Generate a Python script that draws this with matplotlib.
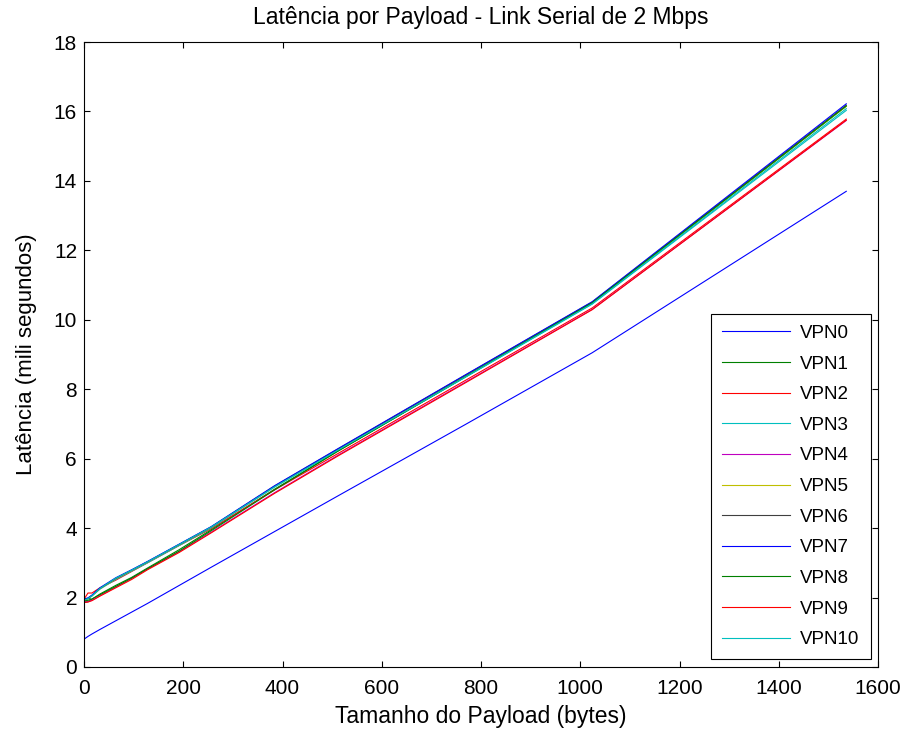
import matplotlib
matplotlib.use("Agg")
import matplotlib.pyplot as plt

plt.rcParams['font.family'] = ['Liberation Sans', 'DejaVu Sans']

# payload sizes (bytes)
payload = [0, 8, 16, 32, 64, 96, 128, 192, 256, 384, 512, 768, 1024, 1536]

vpn0  = [0.80, 0.88, 0.95, 1.08, 1.33, 1.58, 1.83, 2.35, 2.87, 3.90, 4.93, 6.98, 9.05, 13.70]
vpn1  = [1.85, 1.88, 1.95, 2.10, 2.35, 2.58, 2.85, 3.38, 3.95, 5.12, 6.22, 8.35, 10.48, 16.15]
vpn2  = [1.95, 2.13, 2.13, 2.28, 2.50, 2.75, 3.00, 3.50, 3.98, 5.10, 6.15, 8.25, 10.34, 15.78]
vpn3  = [1.92, 1.96, 2.04, 2.24, 2.52, 2.76, 3.00, 3.50, 4.00, 5.18, 6.24, 8.34, 10.45, 16.03]
vpn4  = [1.88, 1.88, 1.92, 2.05, 2.30, 2.55, 2.82, 3.32, 3.88, 5.02, 6.10, 8.20, 10.30, 15.74]
vpn5  = [1.93, 1.97, 2.05, 2.25, 2.54, 2.78, 3.02, 3.52, 4.02, 5.20, 6.27, 8.39, 10.50, 16.15]
vpn6  = [1.94, 1.98, 2.06, 2.26, 2.55, 2.79, 3.03, 3.53, 4.03, 5.21, 6.28, 8.40, 10.51, 16.18]
vpn7  = [1.95, 1.99, 2.07, 2.28, 2.57, 2.80, 3.04, 3.54, 4.04, 5.22, 6.29, 8.41, 10.52, 16.22]
vpn8  = [1.90, 1.92, 1.96, 2.08, 2.32, 2.56, 2.83, 3.34, 3.92, 5.10, 6.22, 8.36, 10.49, 16.16]
vpn9  = [1.86, 1.87, 1.91, 2.04, 2.28, 2.52, 2.80, 3.30, 3.86, 5.00, 6.08, 8.18, 10.29, 15.75]
vpn10 = [1.93, 1.97, 2.05, 2.26, 2.56, 2.79, 3.03, 3.53, 4.03, 5.19, 6.25, 8.35, 10.46, 16.08]

series = [vpn0, vpn1, vpn2, vpn3, vpn4, vpn5, vpn6, vpn7, vpn8, vpn9, vpn10]
labels = ["VPN%d" % i for i in range(11)]

# matlab default line order
matlab_colors = [(0, 0, 1), (0, 0.5, 0), (1, 0, 0), (0, 0.75, 0.75),
                 (0.75, 0, 0.75), (0.75, 0.75, 0), (0.25, 0.25, 0.25)]

fig = plt.figure(figsize=(9.08, 7.37), dpi=100)
ax = fig.add_axes([0.0925, 0.095, 0.8745, 0.848])

for i, (ys, lab) in enumerate(zip(series, labels)):
    ax.plot(payload, ys, color=matlab_colors[i % 7], lw=0.8, label=lab)

ax.set_xlim(0, 1600)
ax.set_ylim(0, 18)
ax.set_xticks(range(0, 1601, 200))
ax.set_yticks(range(0, 19, 2))
ax.tick_params(direction='in', top=True, right=True, length=4, width=0.8, labelsize=15, pad=5)
ax.tick_params(axis='x', pad=9)
for sp in ax.spines.values():
    sp.set_linewidth(0.8)

ax.set_title("Latência por Payload - Link Serial de 2 Mbps", fontsize=16.5, pad=13)
ax.set_xlabel("Tamanho do Payload (bytes)", fontsize=16.5, labelpad=5)
ax.set_ylabel("Latência (mili segundos)", fontsize=16, labelpad=12)

leg = ax.legend(loc='lower right', fontsize=13.5, handlelength=3.6, labelspacing=0.72,
                fancybox=False, edgecolor='black', framealpha=1, borderpad=0.6,
                borderaxespad=0.4, handletextpad=0.55)
leg.get_frame().set_linewidth(0.8)

fig.savefig("out.png", dpi=100)
